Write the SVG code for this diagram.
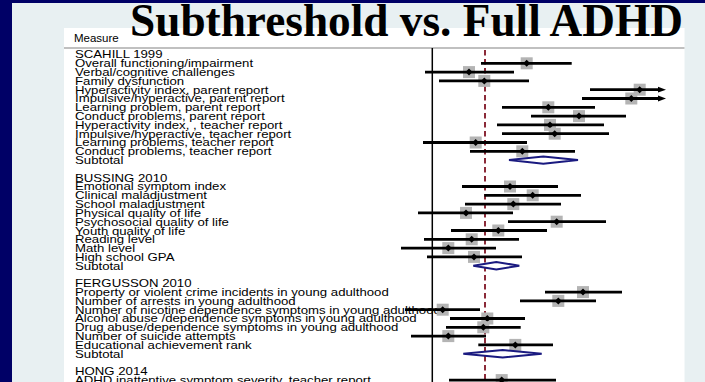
<svg xmlns="http://www.w3.org/2000/svg" width="705" height="382" viewBox="0 0 705 382">
<defs>
<style>
.lbl{font-family:"Liberation Sans",Arial,sans-serif;font-size:13.2px;fill:#000}
.ci{stroke:#000;stroke-width:2.8;fill:none}
.box{fill:#b4b4b4}
.pt{fill:#000}
.dia{fill:#fff;stroke:#1a1a80;stroke-width:2}
</style>
<path id="d" d="M-3.5 0L0 -3.5L3.5 0L0 3.5Z"/>
</defs>
<rect x="0" y="0" width="705" height="382" fill="#000066"/>
<rect x="12" y="3" width="693" height="379" fill="#e8f0f2"/>
<rect x="64" y="28" width="620.5" height="354" fill="#fff"/>
<line x1="64" y1="48" x2="684.5" y2="48" stroke="#c0c0c0" stroke-width="2"/>
<text x="130" y="36" font-family="'Liberation Serif','Times New Roman',serif" font-weight="bold" font-size="46" textLength="553" lengthAdjust="spacingAndGlyphs">Subthreshold vs. Full ADHD</text>
<text x="74" y="42" font-family="'Liberation Sans',Arial,sans-serif" font-size="11.5">Measure</text>
<g id="labels" transform="scale(1,0.88)">
<text class="lbl" x="75" y="66.48">SCAHILL 1999</text>
<text class="lbl" x="75" y="76.48">Overall functioning/impairment</text>
<text class="lbl" x="75" y="86.48">Verbal/cognitive challenges</text>
<text class="lbl" x="75" y="96.48">Family dysfunction</text>
<text class="lbl" x="75" y="106.48">Hyperactivity index, parent report</text>
<text class="lbl" x="75" y="116.48">Impulsive/hyperactive, parent report</text>
<text class="lbl" x="75" y="126.48">Learning problem, parent report</text>
<text class="lbl" x="75" y="136.48">Conduct problems, parent report</text>
<text class="lbl" x="75" y="146.48">Hyperactivity index, , teacher report</text>
<text class="lbl" x="75" y="156.48">Impulsive/hyperactive, teacher report</text>
<text class="lbl" x="75" y="166.48">Learning problems, teacher report</text>
<text class="lbl" x="75" y="176.48">Conduct problems, teacher report</text>
<text class="lbl" x="75" y="186.48">Subtotal</text>
<text class="lbl" x="75" y="206.48">BUSSING 2010</text>
<text class="lbl" x="75" y="216.48">Emotional symptom index</text>
<text class="lbl" x="75" y="226.48">Clinical maladjustment</text>
<text class="lbl" x="75" y="236.48">School maladjustment</text>
<text class="lbl" x="75" y="246.48">Physical quality of life</text>
<text class="lbl" x="75" y="256.48">Psychosocial quality of life</text>
<text class="lbl" x="75" y="266.48">Youth quality of life</text>
<text class="lbl" x="75" y="276.48">Reading level</text>
<text class="lbl" x="75" y="286.48">Math level</text>
<text class="lbl" x="75" y="296.48">High school GPA</text>
<text class="lbl" x="75" y="306.48">Subtotal</text>
<text class="lbl" x="75" y="326.48">FERGUSSON 2010</text>
<text class="lbl" x="75" y="336.48">Property or violent crime incidents in young adulthood</text>
<text class="lbl" x="75" y="346.48">Number of arrests in young adulthood</text>
<text class="lbl" x="75" y="356.48">Number of nicotine dependence symptoms in young adulthood</text>
<text class="lbl" x="75" y="366.48">Alcohol abuse /dependence symptoms in young adulthood</text>
<text class="lbl" x="75" y="376.48">Drug abuse/dependence symptoms in young adulthood</text>
<text class="lbl" x="75" y="386.48">Number of suicide attempts</text>
<text class="lbl" x="75" y="396.48">Educational achievement rank</text>
<text class="lbl" x="75" y="406.48">Subtotal</text>
<text class="lbl" x="75" y="426.48">HONG 2014</text>
<text class="lbl" x="75" y="436.48">ADHD inattentive symptom severity, teacher report</text>
</g>
<g id="axes">
<line x1="432.3" y1="48" x2="432.3" y2="382" stroke="#000" stroke-width="1.5"/>
<line x1="485" y1="50" x2="485" y2="382" stroke="#8b2a38" stroke-width="2" stroke-dasharray="5.5 3.5"/>
</g>
<g id="plot">
<g id="r1"><rect class="box" x="520.7" y="57.3" width="12" height="12"/><line class="ci" x1="481" y1="63.3" x2="571.7" y2="63.3"/><use href="#d" x="526.7" y="63.3"/></g>
<g id="r2"><rect class="box" x="463" y="66.1" width="12" height="12"/><line class="ci" x1="425" y1="72.1" x2="514" y2="72.1"/><use href="#d" x="469" y="72.1"/></g>
<g id="r3"><rect class="box" x="478.3" y="74.9" width="12" height="12"/><line class="ci" x1="439" y1="80.9" x2="529" y2="80.9"/><use href="#d" x="484.3" y="80.9"/></g>
<g id="r4"><rect class="box" x="633.7" y="83.7" width="12" height="12"/><line class="ci" x1="590" y1="89.7" x2="659" y2="89.7"/><path d="M658 86.8L666 89.7L658 92.6Z"/><use href="#d" x="639.7" y="89.7"/></g>
<g id="r5"><rect class="box" x="625.3" y="92.5" width="12" height="12"/><line class="ci" x1="582" y1="98.5" x2="659" y2="98.5"/><path d="M658 95.6L666 98.5L658 101.4Z"/><use href="#d" x="631.3" y="98.5"/></g>
<g id="r6"><rect class="box" x="542.3" y="101.3" width="12" height="12"/><line class="ci" x1="502" y1="107.3" x2="595" y2="107.3"/><use href="#d" x="548.3" y="107.3"/></g>
<g id="r7"><rect class="box" x="573" y="110.1" width="12" height="12"/><line class="ci" x1="531" y1="116.1" x2="626" y2="116.1"/><use href="#d" x="579" y="116.1"/></g>
<g id="r8"><rect class="box" x="544" y="118.9" width="12" height="12"/><line class="ci" x1="497" y1="124.9" x2="604" y2="124.9"/><use href="#d" x="550" y="124.9"/></g>
<g id="r9"><rect class="box" x="548.7" y="127.7" width="12" height="12"/><line class="ci" x1="502" y1="133.7" x2="609" y2="133.7"/><use href="#d" x="554.7" y="133.7"/></g>
<g id="r10"><rect class="box" x="469.7" y="136.5" width="12" height="12"/><line class="ci" x1="423" y1="142.5" x2="527" y2="142.5"/><use href="#d" x="475.7" y="142.5"/></g>
<g id="r11"><rect class="box" x="516.3" y="145.3" width="12" height="12"/><line class="ci" x1="470" y1="151.3" x2="575" y2="151.3"/><use href="#d" x="522.3" y="151.3"/></g>
<g id="s1"><path class="dia" d="M509 160.1L543.3 156.4L578 160.1L543.3 163.8Z"/></g>
<g id="r15"><rect class="box" x="504" y="180.5" width="12" height="12"/><line class="ci" x1="462" y1="186.5" x2="558" y2="186.5"/><use href="#d" x="510" y="186.5"/></g>
<g id="r16"><rect class="box" x="526.7" y="189.3" width="12" height="12"/><line class="ci" x1="484.3" y1="195.3" x2="581" y2="195.3"/><use href="#d" x="532.7" y="195.3"/></g>
<g id="r17"><rect class="box" x="507.3" y="198.1" width="12" height="12"/><line class="ci" x1="465" y1="204.1" x2="561" y2="204.1"/><use href="#d" x="513.3" y="204.1"/></g>
<g id="r18"><rect class="box" x="460" y="206.9" width="12" height="12"/><line class="ci" x1="418" y1="212.9" x2="513" y2="212.9"/><use href="#d" x="466" y="212.9"/></g>
<g id="r19"><rect class="box" x="550.7" y="215.7" width="12" height="12"/><line class="ci" x1="508" y1="221.7" x2="606" y2="221.7"/><use href="#d" x="556.7" y="221.7"/></g>
<g id="r20"><rect class="box" x="492.3" y="224.5" width="12" height="12"/><line class="ci" x1="451" y1="230.5" x2="547" y2="230.5"/><use href="#d" x="498.3" y="230.5"/></g>
<g id="r21"><rect class="box" x="465.7" y="233.3" width="12" height="12"/><line class="ci" x1="424" y1="239.3" x2="519" y2="239.3"/><use href="#d" x="471.7" y="239.3"/></g>
<g id="r22"><rect class="box" x="442.3" y="242.1" width="12" height="12"/><line class="ci" x1="401" y1="248.1" x2="496" y2="248.1"/><use href="#d" x="448.3" y="248.1"/></g>
<g id="r23"><rect class="box" x="468" y="250.9" width="12" height="12"/><line class="ci" x1="427" y1="256.9" x2="522" y2="256.9"/><use href="#d" x="474" y="256.9"/></g>
<g id="s2"><path class="dia" d="M473.3 265.7L496.3 262L519.3 265.7L496.3 269.4Z"/></g>
<g id="r27"><rect class="box" x="577" y="286.1" width="12" height="12"/><line class="ci" x1="545" y1="292.1" x2="622" y2="292.1"/><use href="#d" x="583" y="292.1"/></g>
<g id="r28"><rect class="box" x="552.3" y="294.9" width="12" height="12"/><line class="ci" x1="520" y1="300.9" x2="596" y2="300.9"/><use href="#d" x="558.3" y="300.9"/></g>
<g id="r29"><rect class="box" x="436.7" y="303.7" width="12" height="12"/><line class="ci" x1="405" y1="309.7" x2="480" y2="309.7"/><use href="#d" x="442.7" y="309.7"/></g>
<g id="r30"><rect class="box" x="481.3" y="312.5" width="12" height="12"/><line class="ci" x1="450" y1="318.5" x2="525" y2="318.5"/><use href="#d" x="487.3" y="318.5"/></g>
<g id="r31"><rect class="box" x="477.3" y="321.3" width="12" height="12"/><line class="ci" x1="446" y1="327.3" x2="520.7" y2="327.3"/><use href="#d" x="483.3" y="327.3"/></g>
<g id="r32"><rect class="box" x="442.3" y="330.1" width="12" height="12"/><line class="ci" x1="411" y1="336.1" x2="486" y2="336.1"/><use href="#d" x="448.3" y="336.1"/></g>
<g id="r33"><rect class="box" x="509.3" y="338.9" width="12" height="12"/><line class="ci" x1="478.3" y1="344.9" x2="553" y2="344.9"/><use href="#d" x="515.3" y="344.9"/></g>
<g id="s3"><path class="dia" d="M463.3 353.7L502.7 350L541.7 353.7L502.7 357.4Z"/></g>
<g id="r37"><rect class="box" x="495.7" y="374.1" width="12" height="12"/><line class="ci" x1="449" y1="380.1" x2="556" y2="380.1"/><use href="#d" x="501.7" y="380.1"/></g>
</g>
</svg>
